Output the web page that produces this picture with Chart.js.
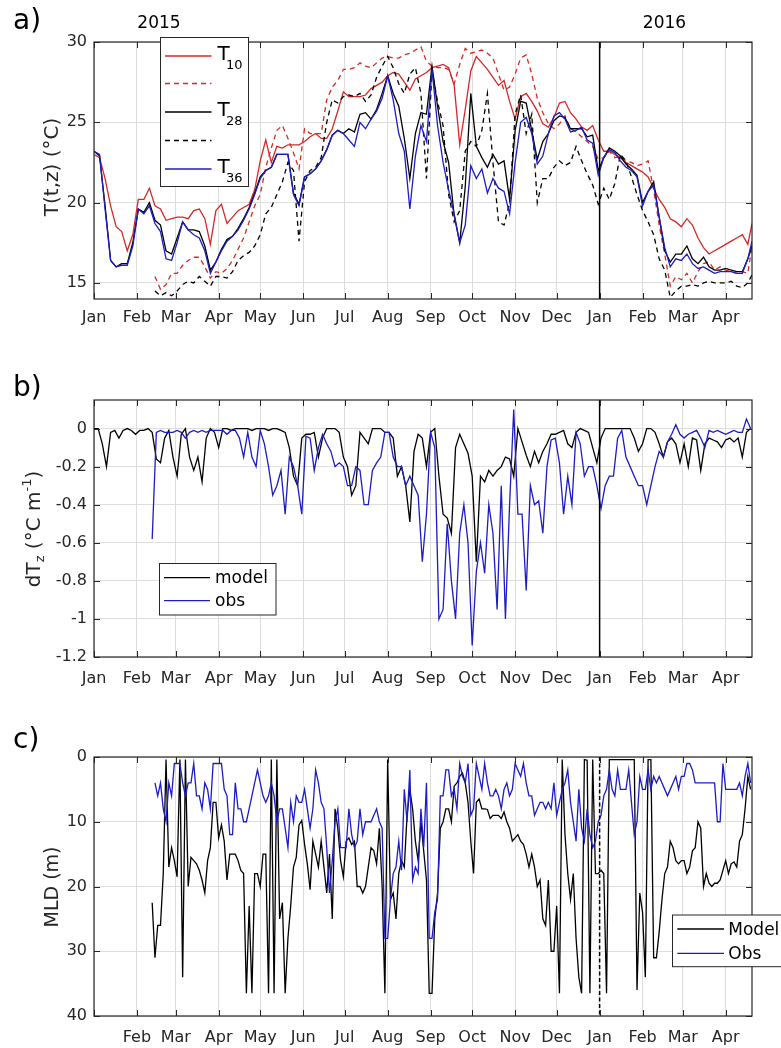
<!DOCTYPE html>
<html>
<head>
<meta charset="utf-8">
<script src="https://cdn.jsdelivr.net/npm/chart.js@4.4.1/dist/chart.umd.min.js"></script>
<style>
  body { margin: 0; background: #fff; width: 781px; height: 1048px; overflow: hidden; position: relative; }
  canvas { position: absolute; left: 0; }
</style>
</head>
<body>
<canvas id="panelA" width="781" height="340" style="top:0px"></canvas>
<canvas id="panelB" width="781" height="360" style="top:340px"></canvas>
<canvas id="panelC" width="781" height="348" style="top:700px"></canvas>
<script>
// x axis: days since 1 Jan 2015
const monthTicks = [0, 31, 59, 90, 120, 151, 181, 212, 243, 273, 304, 334, 365, 396, 425, 456];
const monthLabels = ['Jan','Feb','Mar','Apr','May','Jun','Jul','Aug','Sep','Oct','Nov','Dec','Jan','Feb','Mar','Apr'];
const monthLabelsC = ['','Feb','Mar','Apr','May','Jun','Jul','Aug','Sep','Oct','Nov','Dec','Jan','Feb','Mar','Apr'];
const yearStartDay = 365;
const lastDay = 475;

// a) temperature at 10, 28 and 36 m
const daysA = [0,4,8,12,16,20,24,28,32,36,40,44,48,52,56,60,64,68,72,76,80,84,88,92,96,100,104,108,112,116,120,124,128,132,136,140,144,148,152,156,160,164,168,172,176,180,184,188,192,196,200,204,208,212,216,220,224,228,232,236,240,244,248,252,256,260,264,268,272,276,280,284,288,292,296,300,304,308,312,316,320,324,328,332,336,340,344,348,352,356,360,364,368,372,376,380,384,388,392,396,400,404,408,412,416,420,424,428,432,436,440,444,448,452,456,460,464,468,472,475];
const t10Solid = [23.0,22.8,21.5,19.8,18.5,18.2,17.0,18.0,20.2,20.2, 20.9,19.8,19.6,18.9,19.0,19.1,19.1,19.0,19.5,19.6, 19.0,17.4,19.5,19.9,18.7,19.1,19.5,19.7,19.9,20.8, 22.6,23.9,22.5,23.5,23.4,23.6,23.6,23.6,23.8,24.1, 24.3,24.0,24.0,24.6,25.7,26.9,26.6,26.6,26.6,26.7, 27.1,27.3,27.5,27.9,28.1,28.0,27.5,27.0,27.7,27.9, 28.1,28.4,28.5,28.6,28.4,27.3,23.6,25.8,28.2,29.1, 28.7,28.3,27.8,27.3,27.6,26.3,25.2,26.6,26.8,26.3, 25.7,24.9,24.7,25.3,26.2,26.3,25.6,25.2,24.7,24.5, 24.8,23.9,23.2,23.2,23.0,22.8,22.5,22.3,22.1,21.9, 21.6,20.9,20.2,19.7,19.0,18.8,18.5,19.0,18.6,17.8, 17.2,16.8,17.0,17.2,17.4,17.6,17.8,18.0,17.4,18.7];
const t10Dashed = [null,null,null,null,null,null,null,null,null,null,null, 15.4,14.6,14.9,15.6,15.6,16.1,16.4,16.6,16.6,16.0, 15.3,15.7,15.6,15.9,16.4,17.1,17.8,18.8,19.8,20.5, 22.2,23.4,24.5,24.8,24.0,23.1,22.1,24.6,24.3,24.3, 24.3,26.4,27.2,27.6,28.3,28.3,28.4,28.7,28.5,28.4, 28.7,29.0,29.1,29.0,29.0,29.2,29.3,29.5,29.7,28.8, 28.5,28.4,28.4,28.3,27.4,28.6,29.6,29.3,29.4,29.5, 29.3,29.0,28.0,27.0,27.2,28.0,29.0,29.2,28.0,26.5, 25.6,24.9,24.6,24.9,25.4,24.6,24.4,24.1,23.8,23.5, 22.7,22.8,23.2,22.8,22.9,22.6,22.5,22.3,22.4,22.6, 20.8,18.6,16.8,14.8,15.4,15.2,15.6,15.0,15.7,16.2, 16.3,15.8,16.0,15.8,15.7,15.6,15.7,15.6,17.3];
const t28Solid = [23.2,22.9,19.8,16.4,16.0,16.2,16.2,17.5,19.6,19.4, 20.0,18.9,18.6,17.0,16.8,17.8,18.8,18.3,18.3,18.2, 17.3,15.8,16.3,17.1,17.7,17.9,18.4,19.0,19.7,20.6, 21.6,22.0,22.2,23.0,23.0,23.0,20.6,19.9,21.6,21.8, 22.1,22.6,23.3,24.2,24.5,24.3,24.6,24.4,25.5,25.6, 25.2,25.8,26.8,27.9,26.8,26.0,24.0,21.5,24.3,25.6, 25.5,28.5,26.0,23.8,22.5,19.2,17.5,21.0,26.8,23.5, 22.8,22.2,23.0,22.4,22.6,20.2,24.5,26.3,26.2,24.5, 22.7,23.8,24.3,25.1,25.4,25.3,24.6,24.6,24.6,24.1, 24.2,22.0,22.8,23.4,23.2,22.9,22.4,22.1,21.7,20.0, 20.7,21.3,19.1,17.0,16.3,16.8,16.8,17.3,16.5,16.2, 16.6,16.0,15.8,15.8,15.9,15.8,15.7,15.7,16.5,17.3];
const t28Dashed = [null,null,null,null,null,null,null,null,null,null,null, 14.5,14.2,14.4,14.2,14.5,14.9,15.1,15.0,15.4,15.1, 14.8,15.4,15.4,15.3,15.7,16.4,16.7,16.9,17.3,18.0, 19.3,19.7,20.5,21.3,22.5,22.0,17.6,21.3,22.0,22.2, 22.8,25.0,26.4,26.2,26.6,26.7,26.6,26.8,26.3,26.7, 27.8,28.5,29.1,28.4,27.4,26.8,28.0,28.4,26.8,21.5, 28.2,26.3,24.8,20.5,18.8,19.5,23.2,23.8,23.5,24.5, 26.8,22.5,18.8,18.6,20.0,25.5,26.7,24.3,25.5,20.0, 21.5,21.5,22.2,22.6,22.3,22.5,23.5,22.6,21.8,21.1, 19.9,20.9,20.2,21.2,23.0,22.6,21.6,20.5,19.5,18.8, 18.0,16.5,15.8,14.1,14.5,14.8,14.8,14.9,14.8,15.0, 15.1,15.0,15.0,15.0,15.1,14.8,14.7,15.0,15.5];
const t36Solid = [23.2,23.0,19.6,16.4,16.0,16.1,16.1,17.3,19.6,19.3, 19.8,18.7,18.2,16.5,16.4,17.5,18.8,18.3,18.0,17.8, 17.0,15.6,16.3,17.0,17.6,17.9,18.3,18.9,19.6,20.5, 21.5,22.0,22.2,23.0,23.0,23.0,20.5,19.8,21.6,21.8, 22.1,22.6,23.3,24.2,24.5,24.3,23.9,23.5,25.0,24.6, 25.2,25.7,26.5,27.9,26.4,24.3,23.2,19.6,22.9,24.8, 23.8,28.3,24.8,22.5,20.8,19.3,17.5,18.6,22.3,21.5, 22.1,20.6,21.5,20.9,20.7,19.3,22.5,25.0,25.3,24.3, 22.4,22.9,24.3,25.4,25.6,25.2,24.4,24.5,24.7,23.9, 23.7,21.7,22.8,23.3,23.1,22.6,22.2,22.0,21.6,19.8, 20.7,21.1,19.1,17.2,16.0,16.5,16.4,16.8,16.2,15.9, 16.0,15.8,15.6,15.7,15.7,15.7,15.6,15.6,16.5,17.6];
const yTicksA = [15, 20, 25, 30];
const yLabelsA = ['15', '20', '25', '30'];

// b) vertical temperature gradient
const daysB = [0,3,6,9,12,15,18,21,24,27,30,33,36,39,42,45,48,51,54,57,60,63,66,69,72,75,78,81,84,87,90,93,96,99,102,105,108,111,114,117,120,123,126,129,132,135,138,141,144,147,150,153,156,159,162,165,168,171,174,177,180,183,186,189,192,195,198,201,204,207,210,213,216,219,222,225,228,231,234,237,240,243,246,249,252,255,258,261,264,267,270,273,276,279,282,285,288,291,294,297,300,303,306,309,312,315,318,321,324,327,330,333,336,339,342,345,348,351,354,357,360,363,366,369,372,375,378,381,384,387,390,393,396,399,402,405,408,411,414,417,420,423,426,429,432,435,438,441,444,447,450,453,456,459,462,465,468,471,474];
const dTzModel = [0,0,-0.08,-0.2,-0.02,-0.01,-0.05,-0.01,0,-0.01, -0.03,-0.01,-0.01,0,-0.02,-0.16,-0.18,-0.05,-0.01,-0.15, -0.25,-0.03,0,-0.15,-0.22,-0.15,-0.28,-0.05,0,-0.02, -0.1,0,0,-0.01,0,0,0,0,-0.01,0, 0,0,-0.01,0,0,-0.01,-0.02,-0.1,-0.25,-0.3, -0.05,-0.03,-0.03,-0.02,-0.15,-0.05,0,0,0,-0.02, -0.15,-0.2,-0.35,-0.3,-0.02,-0.05,-0.08,0,0,0, -0.02,-0.02,-0.05,-0.25,-0.2,-0.3,-0.49,-0.12,-0.03,-0.05, -0.2,-0.02,0,-0.25,-0.45,-0.47,-0.55,-0.1,-0.03,-0.08, -0.13,-0.25,-0.7,-0.25,-0.28,-0.22,-0.25,-0.22,-0.2,-0.15, -0.16,-0.25,0,-0.07,-0.14,-0.2,-0.12,-0.18,-0.12,-0.08, -0.03,-0.03,-0.02,-0.01,-0.08,-0.1,-0.02,0,-0.01,-0.02, -0.1,-0.18,-0.05,0,0,0,0,0,0,0, -0.05,-0.12,-0.08,0,0,-0.02,-0.08,-0.15,-0.07,-0.05, -0.08,-0.18,-0.08,-0.2,-0.05,-0.06,-0.22,-0.08,-0.05,-0.06, -0.07,-0.1,-0.06,-0.05,-0.07,-0.05,-0.15,-0.02,0];
const dTzObs = [null,null,null,null,null,null,null,null,null,null,null,null,null,null, -0.58,-0.02,-0.01,-0.02,-0.02,-0.02,-0.01,-0.02,-0.05,-0.02, -0.01,-0.02,-0.01,-0.02,-0.01,-0.01,-0.01,-0.01,-0.03,-0.01, -0.01,-0.05,-0.15,-0.02,-0.15,-0.2,-0.01,-0.08,-0.2,-0.35, -0.3,-0.22,-0.45,-0.15,-0.2,-0.3,-0.45,-0.04,-0.05,-0.22, -0.1,-0.03,-0.08,-0.12,-0.2,-0.18,-0.2,-0.3,-0.3,-0.2, -0.22,-0.4,-0.4,-0.22,-0.18,-0.15,-0.02,-0.02,-0.15,-0.2, -0.2,-0.3,-0.25,-0.3,-0.35,-0.7,-0.45,-0.02,-0.1,-1.0, -0.95,-0.5,-0.8,-1.0,-0.55,-0.4,-0.6,-1.14,-0.75,-0.6, -0.76,-0.4,-0.55,-0.95,-0.3,-1.0,-0.4,0.1,-0.45,-0.45, -0.85,-0.3,-0.4,-0.38,-0.55,-0.2,-0.06,-0.05,-0.18,-0.45, -0.25,-0.4,-0.02,-0.08,-0.25,-0.2,-0.2,-0.3,-0.42,-0.3, -0.25,-0.25,-0.05,-0.01,-0.15,-0.2,-0.25,-0.3,-0.3,-0.4, -0.3,-0.2,-0.12,-0.15,-0.07,-0.03,0.02,-0.03,-0.05,-0.03, -0.02,-0.01,-0.05,-0.1,-0.01,-0.02,-0.01,-0.02,-0.03,-0.02, -0.01,-0.02,-0.02,0.05,0];
const yTicksB = [-1.2, -1, -0.8, -0.6, -0.4, -0.2, 0];
const yLabelsB = ['-1.2', '-1', '-0.8', '-0.6', '-0.4', '-0.2', '0'];

// c) mixed layer depth
const daysC = [42,44,46,48,50,52,54,56,58,60,62,64,66,68,70,72,74,76,78,80,82,84,86,88,90,92,94,96,98,100,102,104,106,108,110,112,114,116,118,120,122,124,126,128,130,132,134,136,138,140,142,144,146,148,150,152,154,156,158,160,162,164,166,168,170,172,174,176,178,180,182,184,186,188,190,192,194,196,198,200,202,204,206,208,210,212,214,216,218,220,222,224,226,228,230,232,234,236,238,240,242,244,246,248,250,252,254,256,258,260,262,264,266,268,270,272,274,276,278,280,282,284,286,288,290,292,294,296,298,300,302,304,306,308,310,312,314,316,318,320,322,324,326,328,330,332,334,336,338,340,342,344,346,348,350,352,354,356,358,360,362,364,366,368,370,372,374,376,378,380,382,384,386,388,390,392,394,396,398,400,402,404,406,408,410,412,414,416,418,420,422,424,426,428,430,432,434,436,438,440,442,444,446,448,450,452,454,456,458,460,462,464,466,468,470,472,474];
const mldModel = [22.5,31,26,26,18,0.4,17,14,16,18.5, 0.4,34,0.4,20,15.5,16,16.5,17.5,19,21, 16,14,7,7,12.5,10.5,13,19,15,15, 15,16,17.5,18,36.5,23,36.5,18,18,20, 15,15,36.5,0.4,36.5,0.4,25,22.5,36.5,28, 23,17,15.5,10.5,9.8,13.5,16.5,20.5,13,15, 17,13,17,21,15,25,8,11,16,18.5, 13,12.5,13.5,13,20,20,21,20,17,14, 14.5,16.5,11,20,36.5,0.4,22,21,25,18, 16,17,9,5,8,13,16,10,14.5,19, 36.5,36.5,25,21,11,10,8,8,10,4.5, 4,3,2.5,4,7,13,18,7,6.5,8, 8,8.1,9.5,9,9,9,9.5,8.5,10,11, 13,12.5,12,13,13.5,15,17,15,17,20, 19,25,26,19,30,30,23,36.5,0.4,12, 18,22,18,28,34,36.5,0.4,0.5,36.5,0.4, 18,18,17.5,18,36.5,0.4,0.4,0.4,0.4,0.4, 0.4,0.4,0.4,0.4,0.4,36,21,24,34,0.4, 0.4,31,31,27,22,18,17,13,14,16, 16.5,16,16,18,17,14.5,14,10,11,20, 18,19.5,20,19.5,19.5,19,17.5,16,18,16.5, 16.2,17,13,12,8,3,5];
const mldObs = [null,4,6,4,8,10,4,6,1,1, 1,4,6,4,4,1,6,6,8,4, 5,8,1,1,1,1,5,6,12,12, 4,8,8,10,10,8,6,4,2,4, 6,7,6,4,6,10,8,8,11,14, 7,10,6,7,7,5,8,11,8,2, 4,7,8,14,21,16,10,8,14,14, 14,8,12,14,13,8,12,10,10,10, 9,8,10,11,28,28,22,18,17,13, 17.5,5,10,2,19,17,18,8,14,4, 28,28,24,22,6,6,2,2,6,5, 8,1,3,4,1,9,8,1,3,5, 1,4,6,6,5,6,8,5,4,6, 5,1,2,3,1,4,6,6,9,8, 7,7,8,7,8,4,9,7,5,4, 2,7,10,13,5,11,13,8,12,14, 13,10,9,6,5,2,5,6,2,5, 5,5,2,7,12,10,3,5,5,2, 5,3,4,3,4,5,6,5,4,3, 5,3,3,1,1,2,4,4,4,4, 4,4,4,4,10,10,1,5,5,5, 5,5,4,6,3,1,4];
const yTicksC = [0, 10, 20, 30, 40];
const yLabelsC = ['0', '10', '20', '30', '40'];

const FONT = '"DejaVu Sans"';
const INK = '#262626';
const GRID = '#dedede';
const RED = '#d62828';
const BLUE = '#1c1cc4';
const BLACK = '#000000';
Chart.defaults.font.family = 'DejaVu Sans';

function series(days, vals, color, dash, order) {
  return {
    data: days.map((d, i) => ({ x: d, y: vals[i] })),
    borderColor: color,
    borderWidth: 1.3,
    borderDash: dash,
    pointRadius: 0,
    tension: 0,
    fill: false,
    spanGaps: false,
    order: order
  };
}

function seg(ctx, x1, y1, x2, y2) {
  ctx.beginPath(); ctx.moveTo(x1, y1); ctx.lineTo(x2, y2); ctx.stroke();
}

function richText(ctx, x, y, parts) {
  let cx = x;
  parts.forEach(p => {
    ctx.font = p.size + 'px ' + FONT;
    ctx.fillText(p.t, cx, y + (p.dy || 0));
    cx += ctx.measureText(p.t).width;
  });
}

function richWidth(ctx, parts) {
  let w = 0;
  parts.forEach(p => { ctx.font = p.size + 'px ' + FONT; w += ctx.measureText(p.t).width; });
  return w;
}

function drawFrame(chart, cfg) {
  const { ctx, chartArea: a, scales: { x, y } } = chart;
  ctx.save();
  // start of 2016
  const xd = x.getPixelForValue(yearStartDay);
  ctx.strokeStyle = BLACK;
  ctx.lineWidth = 1.5;
  ctx.setLineDash(cfg.dividerDash);
  seg(ctx, xd, a.top, xd, a.bottom);
  ctx.setLineDash([]);
  // inward tick marks on all four sides
  ctx.strokeStyle = INK;
  ctx.lineWidth = 1;
  monthTicks.forEach(d => {
    const px = Math.round(x.getPixelForValue(d)) + 0.5;
    seg(ctx, px, a.bottom, px, a.bottom - 6);
    seg(ctx, px, a.top, px, a.top + 6);
  });
  cfg.yTicks.forEach(v => {
    const py = Math.round(y.getPixelForValue(v)) + 0.5;
    seg(ctx, a.left, py, a.left + 6, py);
    seg(ctx, a.right, py, a.right - 6, py);
  });
  ctx.lineWidth = 1.2;
  ctx.strokeRect(a.left, a.top, a.right - a.left, a.bottom - a.top);
  ctx.restore();
}

function drawTexts(chart, cfg) {
  const ctx = chart.ctx;
  ctx.save();
  ctx.fillStyle = BLACK;
  ctx.textBaseline = 'alphabetic';
  ctx.textAlign = 'left';
  ctx.font = '28px ' + FONT;
  ctx.fillText(cfg.letter, 13, cfg.letterY);

  (cfg.years || []).forEach(yr => {
    ctx.font = '17px ' + FONT;
    ctx.textAlign = 'center';
    ctx.fillText(yr.t, yr.x, yr.y);
  });
  ctx.textAlign = 'left';

  // rotated y axis title
  ctx.save();
  ctx.fillStyle = INK;
  ctx.translate(cfg.yTitle.x, cfg.yTitle.y);
  ctx.rotate(-Math.PI / 2);
  ctx.textBaseline = 'middle';
  const w = richWidth(ctx, cfg.yTitle.parts);
  richText(ctx, -w / 2, 0, cfg.yTitle.parts);
  ctx.restore();

  // legend
  const lg = cfg.legend;
  ctx.fillStyle = '#ffffff';
  ctx.fillRect(lg.box[0], lg.box[1], lg.box[2], lg.box[3]);
  ctx.strokeStyle = INK;
  ctx.lineWidth = 1;
  ctx.strokeRect(lg.box[0], lg.box[1], lg.box[2], lg.box[3]);
  lg.items.forEach(it => {
    ctx.strokeStyle = it.color;
    ctx.lineWidth = 1.3;
    ctx.setLineDash(it.dash);
    seg(ctx, lg.x1, it.ly, lg.x2, it.ly);
    ctx.setLineDash([]);
    ctx.fillStyle = BLACK;
    ctx.textBaseline = 'alphabetic';
    if (it.main) {
      ctx.font = '20px ' + FONT;
      ctx.fillText(it.main, lg.tx, it.ly + 3.5);
      ctx.font = '13px ' + FONT;
      ctx.fillText(it.sub, lg.tx + 8.5, it.ly + 13);
    } else if (it.text) {
      ctx.font = '17px ' + FONT;
      ctx.fillText(it.text, lg.tx, it.ly + 5.5);
    }
  });
  ctx.restore();
}

function panel(id, cfg) {
  return new Chart(document.getElementById(id), {
    type: 'line',
    data: { datasets: cfg.datasets },
    options: {
      responsive: false,
      animation: false,
      events: [],
      layout: { padding: { left: 0, right: 29, top: cfg.top, bottom: 0 } },
      plugins: { legend: { display: false }, tooltip: { enabled: false } },
      scales: {
        x: {
          type: 'linear', min: 0, max: lastDay, bounds: 'data',
          afterBuildTicks: s => { s.ticks = monthTicks.map(v => ({ value: v })); },
          afterFit: s => { s.height = cfg.xAxisHeight; },
          grid: { color: GRID, lineWidth: 1, drawTicks: false },
          border: { display: false },
          ticks: {
            autoSkip: false, maxRotation: 0, minRotation: 0, padding: cfg.xPad,
            color: INK, font: { size: 16 },
            callback: (v, i) => cfg.xLabels[i]
          }
        },
        y: {
          type: 'linear', min: cfg.yMin, max: cfg.yMax, reverse: !!cfg.reverse, bounds: 'data',
          afterBuildTicks: s => { s.ticks = cfg.yTicks.map(v => ({ value: v })); },
          afterFit: s => { s.width = 94; },
          grid: { color: GRID, lineWidth: 1, drawTicks: false },
          border: { display: false },
          ticks: {
            padding: 7, color: INK, font: { size: 16 },
            callback: (v, i) => cfg.yLabels[i]
          }
        }
      }
    },
    plugins: [{
      id: 'matlabFrame',
      afterDatasetsDraw: chart => drawFrame(chart, cfg),
      afterDraw: chart => drawTexts(chart, cfg)
    }]
  });
}

panel('panelA', {
  top: 42, xAxisHeight: 41, xPad: 9,
  yMin: 14, yMax: 30, yTicks: yTicksA, yLabels: yLabelsA, xLabels: monthLabels,
  dividerDash: [],
  datasets: [
    series(daysA, t36Solid, BLUE, [], 0),
    series(daysA, t28Solid, BLACK, [], 1),
    series(daysA, t28Dashed, BLACK, [5, 4], 2),
    series(daysA, t10Dashed, RED, [5, 4], 3),
    series(daysA, t10Solid, RED, [], 4)
  ],
  letter: 'a)', letterY: 29,
  years: [{ t: '2015', x: 159, y: 28 }, { t: '2016', x: 664.5, y: 28 }],
  yTitle: { x: 53, y: 167, parts: [{ t: 'T(t,z) (°C)', size: 20 }] },
  legend: {
    box: [160.5, 37.5, 88, 149], x1: 165, x2: 211.5, tx: 217.5,
    items: [
      { color: RED, dash: [], ly: 56, main: 'T', sub: '10' },
      { color: RED, dash: [5, 4], ly: 83.5 },
      { color: BLACK, dash: [], ly: 112, main: 'T', sub: '28' },
      { color: BLACK, dash: [5, 4], ly: 140.5 },
      { color: BLUE, dash: [], ly: 169, main: 'T', sub: '36' }
    ]
  }
});

panel('panelB', {
  top: 60, xAxisHeight: 43, xPad: 12,
  yMin: -1.2, yMax: 0.15, yTicks: yTicksB, yLabels: yLabelsB, xLabels: monthLabels,
  dividerDash: [],
  datasets: [
    series(daysB, dTzObs, BLUE, [], 0),
    series(daysB, dTzModel, BLACK, [], 1)
  ],
  letter: 'b)', letterY: 56,
  yTitle: { x: 35, y: 189, parts: [
    { t: 'dT', size: 20 }, { t: 'z', size: 13, dy: 6 }, { t: ' (°C m', size: 20 },
    { t: '-1', size: 13, dy: -7 }, { t: ')', size: 20 }
  ] },
  legend: {
    box: [159.5, 223.5, 116.5, 51.5], x1: 164, x2: 210, tx: 215,
    items: [
      { color: BLACK, dash: [], ly: 237.7, text: 'model' },
      { color: BLUE, dash: [], ly: 260.7, text: 'obs' }
    ]
  }
});

panel('panelC', {
  top: 57, xAxisHeight: 32, xPad: 12,
  yMin: 0, yMax: 40, reverse: true, yTicks: yTicksC, yLabels: yLabelsC, xLabels: monthLabelsC,
  dividerDash: [4, 2.5],
  datasets: [
    series(daysC, mldObs, BLUE, [], 0),
    series(daysC, mldModel, BLACK, [], 1)
  ],
  letter: 'c)', letterY: 48,
  yTitle: { x: 53, y: 187, parts: [{ t: 'MLD (m)', size: 19 }] },
  legend: {
    box: [672.5, 215, 130, 51.7], x1: 677.3, x2: 724, tx: 728.3,
    items: [
      { color: BLACK, dash: [], ly: 229, text: 'Model' },
      { color: BLUE, dash: [], ly: 253.3, text: 'Obs' }
    ]
  }
});
</script>
</body>
</html>
